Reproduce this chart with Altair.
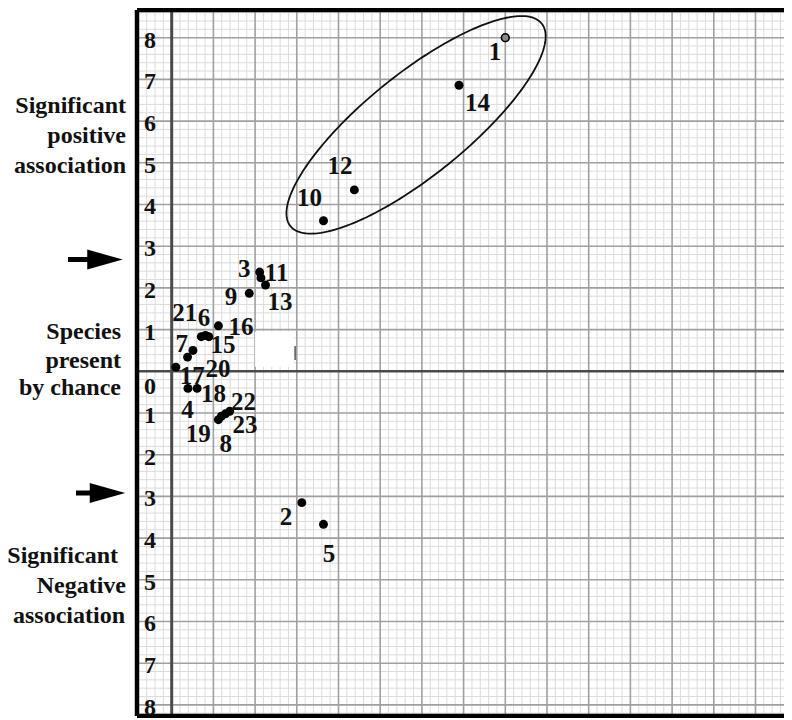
import altair as alt
import numpy as np
import pandas as pd

# ---------------- data ----------------
species = ["1", "14", "12", "10", "3", "11", "13", "9", "16", "21", "6", "15",
           "7", "20", "17", "4", "18", "19", "8", "23", "22", "2", "5"]
x_vals = [8.00, 6.89, 4.38, 3.64, 2.11, 2.14, 2.25, 1.86, 1.12, 0.71, 0.81, 0.89,
          0.38, 0.51, 0.10, 0.39, 0.61, 1.12, 1.19, 1.29, 1.39, 3.12, 3.64]
y_vals = [8.00, 6.86, 4.35, 3.61, 2.38, 2.24, 2.07, 1.87, 1.09, 0.83, 0.86, 0.83,
          0.34, 0.50, 0.10, -0.41, -0.41, -1.16, -1.08, -1.02, -0.96, -3.15, -3.67]

# label offsets from each point, in pixels (right, down)
label_dx = [-10.4, 18.5, -14.3, -14.0, -15.5, 15.7, 14.5, -18.3, 22.7, -16.5, -1.5, 14.3,
            -5.8, 25.0, 16.5, -0.5, 16.3, -20.2, 4.5, 19.5, 13.8, -15.7, 5.5]
label_dy = [14.0, 18.0, -24.0, -23.0, -3.0, -5.0, 17.5, 3.4, 0.7, -23.2, -17.2, 8.5,
            -13.0, 18.5, 8.7, 21.5, 5.5, 14.5, 27.5, 11.0, -9.8, 14.8, 29.5]

y_tick_values = [8, 7, 6, 5, 4, 3, 2, 1, -1, -2, -3, -4, -5, -6, -7, -8]

side_text = ["Significant", "positive", "association",
             "Species", "present", "by chance",
             "Significant", "Negative", "association"]
side_text_x = [-1.096, -1.096, -1.096,
               -1.216, -1.216, -1.216,
               -1.288, -1.096, -1.120]
side_text_y = [6.182, 5.475, 4.767,
               0.767, 0.072, -0.568,
               -4.604, -5.309, -6.029]

arrow_y = [2.68, -2.92]
arrow_start_x = [-2.487, -2.295]
arrow_head_x = [-1.60, -1.54]

# ellipse around the strongly associated species
ell_cx, ell_cy, ell_a, ell_b, ell_angle = 5.86, 5.91, 3.87, 1.22, 38.9

# blank patch in the scanned figure
patch_x, patch_x2, patch_y, patch_y2 = 2.00, 2.92, 0.11, 0.95

# ---------------- layout ----------------
PX = 41.7                     # pixels per unit (both axes)
W, H = 647, 706
X_MIN = -0.832
X_MAX = X_MIN + W / PX
Y_MAX = 8.664
Y_MIN = Y_MAX - H / PX
FONT = "Liberation Serif"

xs = alt.Scale(domain=[X_MIN, X_MAX], nice=False, zero=False)
ys = alt.Scale(domain=[Y_MIN, Y_MAX], nice=False, zero=False)

# graph-paper grid: minor every 0.2, major every 1
gx = [round(float(v), 1) for v in np.arange(-0.8, X_MAX, 0.2)]
gy = [round(float(v), 1) for v in np.arange(-8.2, Y_MAX, 0.2)]
gx_minor = [v for v in gx if abs(v - round(v)) > 0.01]
gy_minor = [v for v in gy if abs(v - round(v)) > 0.01]
gx_major = [v for v in gx if abs(v - round(v)) <= 0.01 and round(v) != 0]
gy_major = [v for v in gy if abs(v - round(v)) <= 0.01 and round(v) != 0]


def X(f):
    return alt.X(f, scale=xs, axis=None)


def Y(f):
    return alt.Y(f, scale=ys, axis=None)


vminor = alt.Chart(pd.DataFrame({"v": gx_minor})).mark_rule(color="#dcdcdc", strokeWidth=1).encode(x=X("v:Q"))
hminor = alt.Chart(pd.DataFrame({"v": gy_minor})).mark_rule(color="#dcdcdc", strokeWidth=1).encode(y=Y("v:Q"))
vmajor = alt.Chart(pd.DataFrame({"v": gx_major})).mark_rule(color="#a0a0a0", strokeWidth=1.6).encode(x=X("v:Q"))
hmajor = alt.Chart(pd.DataFrame({"v": gy_major})).mark_rule(color="#a0a0a0", strokeWidth=1.6).encode(y=Y("v:Q"))

zero_df = pd.DataFrame({"v": [0]})
vline = alt.Chart(zero_df).mark_rule(color="#4a4a4a", strokeWidth=3).encode(x=X("v:Q"))
hline = alt.Chart(zero_df).mark_rule(color="#4a4a4a", strokeWidth=2.5).encode(y=Y("v:Q"))

hborders = alt.Chart(pd.DataFrame({"v": [Y_MAX, Y_MIN]})).mark_rule(color="black", strokeWidth=4.5).encode(y=Y("v:Q"))
lborder = alt.Chart(pd.DataFrame({"v": [X_MIN]})).mark_rule(color="black", strokeWidth=4.5).encode(x=X("v:Q"))

pts = pd.DataFrame({"species": species, "x": x_vals, "y": y_vals,
                    "dx": label_dx, "dy": label_dy})
pts["lx"] = pts["x"] + pts["dx"] / PX
pts["ly"] = pts["y"] - pts["dy"] / PX

dots = alt.Chart(pts).mark_circle(size=80, color="black", opacity=1).transform_filter(
    "datum.species != '1'").encode(x=X("x:Q"), y=Y("y:Q"))

pt1 = alt.Chart(pts).mark_point(filled=True, fill="#8a8a8a", stroke="black",
                                strokeWidth=1.6, size=60, opacity=1).transform_filter(
    "datum.species == '1'").encode(x=X("x:Q"), y=Y("y:Q"))

labels = alt.Chart(pts).mark_text(font=FONT, fontWeight="bold", fontSize=25,
                                  baseline="middle", align="center", color="#111").encode(
    x=X("lx:Q"), y=Y("ly:Q"), text="species:N")

patch = alt.Chart(pd.DataFrame({"x": [patch_x], "x2": [patch_x2], "y": [patch_y], "y2": [patch_y2]})).mark_rect(
    color="white", opacity=1).encode(x=X("x:Q"), x2="x2:Q", y=Y("y:Q"), y2="y2:Q")
dash = alt.Chart(pd.DataFrame({"x": [2.96], "y": [0.27], "y2": [0.60]})).mark_rule(
    color="#555", strokeWidth=1.5).encode(x=X("x:Q"), y=Y("y:Q"), y2="y2:Q")

t = np.linspace(0, 2 * np.pi, 241)
th = np.deg2rad(ell_angle)
ell_df = pd.DataFrame({
    "i": np.arange(len(t)),
    "x": ell_cx + ell_a * np.cos(t) * np.cos(th) - ell_b * np.sin(t) * np.sin(th),
    "y": ell_cy + ell_a * np.cos(t) * np.sin(th) + ell_b * np.sin(t) * np.cos(th),
})
ellipse = alt.Chart(ell_df).mark_line(color="#111", strokeWidth=1.8).encode(
    x=X("x:Q"), y=Y("y:Q"), order="i:Q")

tick_df = pd.DataFrame({"v": y_tick_values, "x": [-0.52] * len(y_tick_values)})
tick_labels = alt.Chart(tick_df).transform_calculate(lab="abs(datum.v)").mark_text(
    font=FONT, fontWeight="bold", fontSize=24, baseline="middle", align="center", dy=3, color="#111").encode(
    x=X("x:Q"), y=Y("v:Q"), text="lab:N")
zero_label = alt.Chart(pd.DataFrame({"v": [0], "x": [-0.52]})).mark_text(
    font=FONT, fontWeight="bold", fontSize=24, baseline="middle", align="center", dy=16, color="#111").encode(
    x=X("x:Q"), y=Y("v:Q"), text="v:N")

side_df = pd.DataFrame({"t": side_text, "x": side_text_x, "y": side_text_y})
side = alt.Chart(side_df).mark_text(font=FONT, fontWeight="bold", fontSize=24,
                                    baseline="alphabetic", align="right", color="#111").encode(
    x=X("x:Q"), y=Y("y:Q"), text="t:N")

arr_df = pd.DataFrame({"x": arrow_start_x, "x2": arrow_head_x, "y": arrow_y})
shafts = alt.Chart(arr_df).mark_rule(color="black", strokeWidth=5).encode(
    x=X("x:Q"), x2="x2:Q", y=Y("y:Q"))
heads = alt.Chart(arr_df).mark_point(shape="M-1,-0.56L1,0L-1,0.56Z", size=1260, filled=True,
                                     color="black", opacity=1, strokeWidth=0).encode(
    x=X("x2:Q"), y=Y("y:Q"))

chart = alt.layer(
    vminor, hminor, vmajor, hmajor, patch, dash, vline, hline, hborders, lborder,
    ellipse, dots, pt1, labels, tick_labels, zero_label, side, shafts, heads
).properties(
    width=W, height=H,
    autosize=alt.AutoSizeParams(type="none"),
    padding={"left": 129, "top": 2, "right": 0, "bottom": 2},
).configure_view(stroke=None)

chart.save("out.html", embed_options={"renderer": "svg", "actions": False})
